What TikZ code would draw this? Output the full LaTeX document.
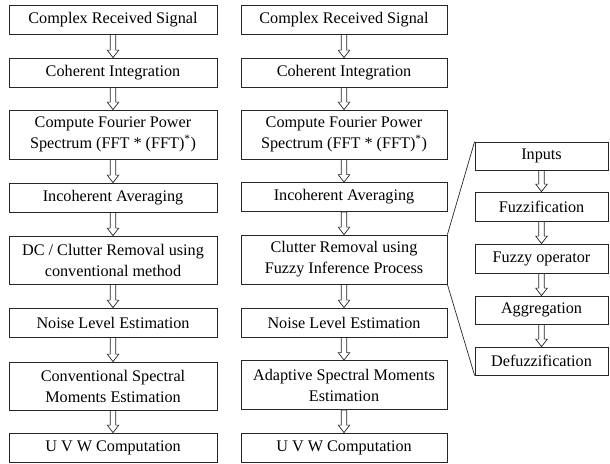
\documentclass[tikz,border=0pt]{standalone}
\usepackage{fontspec}
\setmainfont{Liberation Serif}
\newfontfamily\tnr{Liberation Serif}
\usetikzlibrary{calc}
\begin{document}
\begin{tikzpicture}[x=1pt,y=-1pt,
  box/.style={draw=black!85, line width=0.8pt, fill=white, align=center, inner sep=0pt,
    font=\tnr\fontsize{16.2}{21}\selectfont},
  lbox/.style={box, minimum width=208pt},
  rbox/.style={box, minimum width=206pt},
  fbox/.style={box, minimum width=133pt},
  hollow/.style={draw=black!85, line width=0.7pt, fill=white, line join=miter, to path={
    ($(\tikztostart)+(-2.8,0)$) -- ($(\tikztotarget)+(-2.8,-7.5)$) -- ($(\tikztotarget)+(-5.8,-7.5)$)
    -- (\tikztotarget) -- ($(\tikztotarget)+(5.8,-7.5)$) -- ($(\tikztotarget)+(2.8,-7.5)$)
    -- ($(\tikztostart)+(2.8,0)$) -- cycle}},
  link/.style={draw=black!85, line width=0.7pt}
]
\useasboundingbox (0,0) rectangle (610,463);
% left column
\node[lbox, minimum height=29pt] (l1) at (113,19.5) {Complex Received Signal};
\node[lbox, minimum height=29pt] (l2) at (113,72.5) {Coherent Integration};
\node[lbox, minimum height=49pt] (l3) at (113,134.5) {Compute Fourier Power\\Spectrum (FFT * (FFT)\textsuperscript{*})};
\node[lbox, minimum height=29pt] (l4) at (113,197.5) {Incoherent Averaging};
\node[lbox, minimum height=48pt] (l5) at (113,260) {DC / Clutter Removal using\\conventional method};
\node[lbox, minimum height=29pt] (l6) at (113,322.5) {Noise Level Estimation};
\node[lbox, minimum height=48pt] (l7) at (113,386) {Conventional Spectral\\Moments Estimation};
\node[lbox, minimum height=29pt] (l8) at (113,447.5) {U V W Computation};
% right column
\node[rbox, minimum height=29pt] (r1) at (344,19.5) {Complex Received Signal};
\node[rbox, minimum height=29pt] (r2) at (344,72.5) {Coherent Integration};
\node[rbox, minimum height=49pt] (r3) at (344,134.5) {Compute Fourier Power\\Spectrum (FFT * (FFT)\textsuperscript{*})};
\node[rbox, minimum height=29pt] (r4) at (344,197) {Incoherent Averaging};
\node[rbox, minimum height=49pt] (r5) at (344,259.5) {Clutter Removal using\\Fuzzy Inference Process};
\node[rbox, minimum height=29pt] (r6) at (344,322.5) {Noise Level Estimation};
\node[rbox, minimum height=49pt] (r7) at (344,385) {Adaptive Spectral Moments\\Estimation};
\node[rbox, minimum height=29pt] (r8) at (344,447.5) {U V W Computation};
% fuzzy column
\node[fbox, minimum height=28pt] (f1) at (541.5,156) {Inputs};
\node[fbox, minimum height=29pt] (f2) at (541.5,206.5) {Fuzzification};
\node[fbox, minimum height=29pt] (f3) at (541.5,258.5) {Fuzzy operator};
\node[fbox, minimum height=28pt] (f4) at (541.5,310) {Aggregation};
\node[fbox, minimum height=28pt] (f5) at (541.5,361) {Defuzzification};
% arrows
\foreach \a/\b in {l1/l2,l2/l3,l3/l4,l4/l5,l5/l6,l6/l7,l7/l8,
                   r1/r2,r2/r3,r3/r4,r4/r5,r5/r6,r6/r7,r7/r8,
                   f1/f2,f2/f3,f3/f4,f4/f5}
  \path[hollow] (\a.south) to (\b.north);
% zoom lines
\draw[link] (r5.north east) -- (f1.north west);
\draw[link] (r5.south east) -- (f5.south west);
\end{tikzpicture}
\end{document}
